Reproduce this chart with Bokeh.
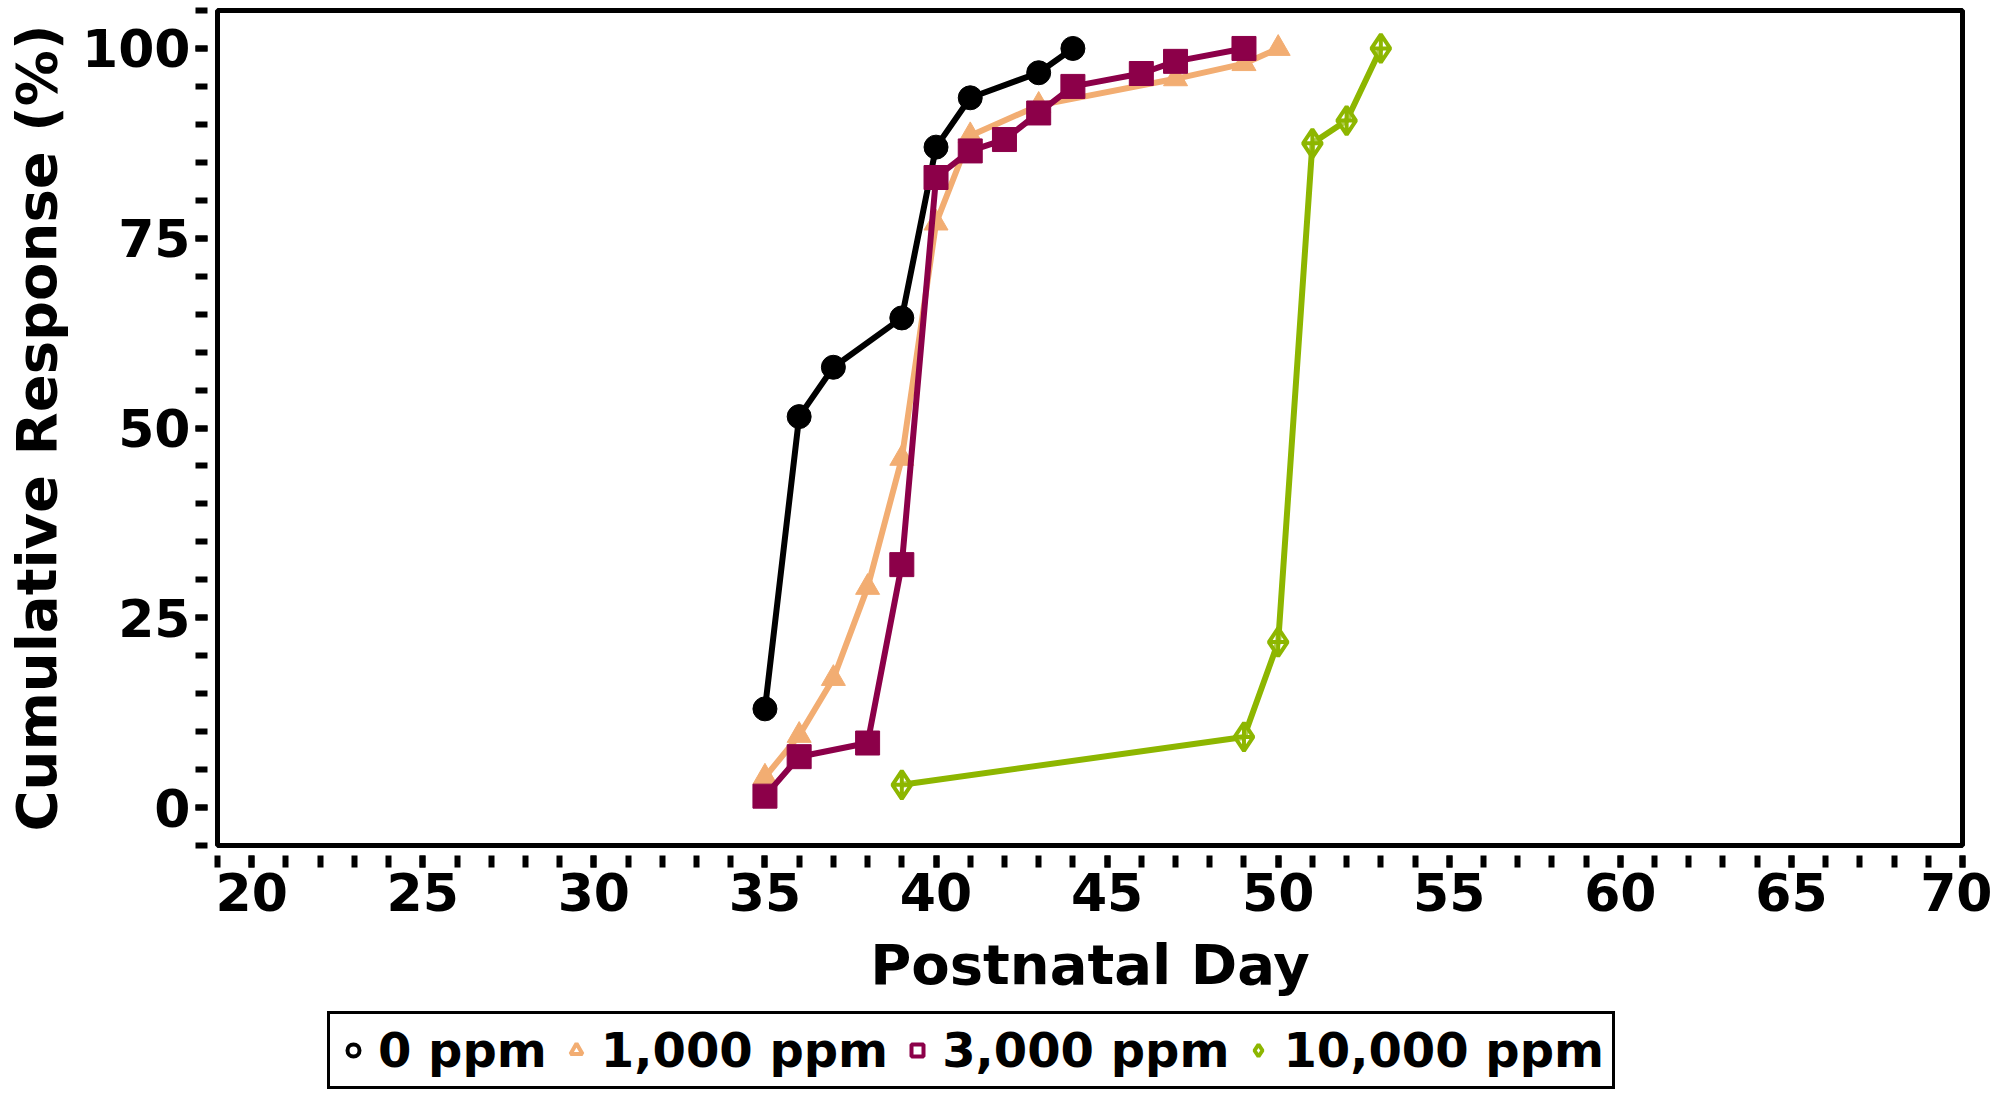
from bokeh.plotting import figure
from bokeh.models import FixedTicker, Legend, LegendItem, Range1d
from bokeh.layouts import column
from bokeh.embed import file_html
from bokeh.resources import INLINE

x0 = [35, 36, 37, 39, 40, 41, 43, 44]
y0 = [13, 51.5, 58, 64.5, 87, 93.5, 96.8, 100]
x1 = [35, 36, 37, 38, 39, 40, 41, 43, 47, 49, 50]
y1 = [4, 9.5, 17, 29, 46, 77, 88.5, 92.5, 96, 98, 100]
x3 = [35, 36, 38, 39, 40, 41, 42, 43, 44, 46, 47, 49]
y3 = [1.5, 6.7, 8.5, 32, 83, 86.5, 88, 91.5, 95, 96.7, 98.3, 100]
x10 = [39, 49, 50, 51, 52, 53]
y10 = [3, 9.3, 21.8, 87.5, 90.5, 100]

names = ["0 ppm", "1,000 ppm", "3,000 ppm", "10,000 ppm"]
colors = ["black", "#F2AD72", "#8C0049", "#8DB600"]
FONT = "DejaVu Sans"

p = figure(frame_width=1745, frame_height=835, output_backend="svg", toolbar_location=None,
           x_range=Range1d(19, 70), y_range=Range1d(-5, 105),
           x_axis_label="Postnatal Day", y_axis_label="Cumulative Response (%)",
           min_border_left=5, min_border_top=10, min_border_right=30, min_border_bottom=0)
p.grid.visible = False
p.outline_line_color = "black"
p.outline_line_width = 5

p.xaxis.ticker = FixedTicker(ticks=list(range(20, 71, 5)), minor_ticks=list(range(19, 71)))
p.yaxis.ticker = FixedTicker(ticks=[0, 25, 50, 75, 100], minor_ticks=list(range(-5, 106, 5)))
for ax in (p.xaxis, p.yaxis):
    ax.axis_line_color = None
    ax.major_tick_line_width = 6
    ax.minor_tick_line_width = 6
    ax.major_tick_in = -10
    ax.major_tick_out = 22
    ax.minor_tick_in = -10
    ax.minor_tick_out = 22
    ax.major_label_text_font = FONT
    ax.major_label_text_font_style = "bold"
    ax.major_label_text_font_size = "52px"
    ax.major_label_text_color = "black"
    ax.axis_label_text_font = FONT
    ax.axis_label_text_font_style = "bold"
    ax.axis_label_text_font_size = "56px"
    ax.axis_label_text_color = "black"
p.xaxis.axis_label_standoff = 18
p.yaxis.axis_label_standoff = 10

series = [(x0, y0, "circle"), (x1, y1, "triangle"), (x3, y3, "square"), (x10, y10, "diamond_cross")]
for (xs, ys, mk), c in zip(series, colors):
    p.line(xs, ys, color=c, line_width=6)
    if mk == "diamond_cross":
        p.scatter(xs, ys, marker=mk, size=28, fill_color="white", fill_alpha=0.3,
                  line_color=c, line_width=4)
    else:
        p.scatter(xs, ys, marker=mk, size=24, fill_color=c, line_color=c)

# separate strip for the legend, swatches are hollow and drawn off-range
leg = figure(width=p.frame_width + 250, height=95, output_backend="svg", toolbar_location=None,
             x_range=Range1d(0, 1), y_range=Range1d(0, 1), min_border=0)
leg.axis.visible = False
leg.grid.visible = False
leg.outline_line_color = None
leg_rs = []
for m, c in zip(["circle", "triangle", "square", "diamond"], colors):
    leg_rs.append(leg.scatter([-100], [-100], marker=m, size=24, fill_color=None,
                              line_color=c, line_width=4))
legend = Legend(items=[LegendItem(label=n, renderers=[r]) for n, r in zip(names, leg_rs)],
                orientation="horizontal", location=(110, 5),
                label_text_font=FONT, label_text_font_style="bold", label_text_font_size="48px",
                label_text_color="black",
                border_line_color="black", border_line_alpha=1.0, border_line_width=3,
                glyph_width=30, glyph_height=30,
                spacing=14, padding=8, margin=0, label_standoff=10)
leg.add_layout(legend)

open("out.html", "w").write(file_html(column(p, leg, spacing=0), INLINE))
